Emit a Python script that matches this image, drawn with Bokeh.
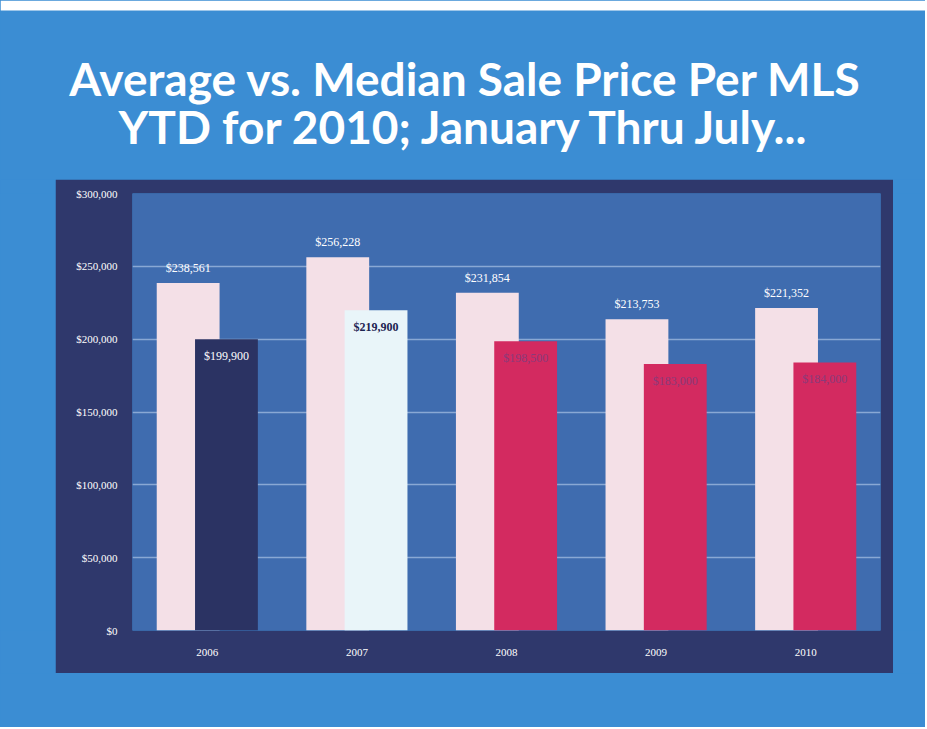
from bokeh.plotting import figure
from bokeh.models import (ColumnDataSource, FactorRange, Range1d, FixedTicker,
                          NumeralTickFormatter, Label, BoxAnnotation)
from bokeh.transform import dodge
from bokeh.layouts import column, row
from bokeh.embed import file_html
from bokeh.resources import INLINE

# ---------------- data ----------------
years = ["2006", "2007", "2008", "2009", "2010"]
average_price = [238561, 256228, 231854, 213753, 221352]
median_price = [199900, 219900, 198500, 183000, 184000]
y_ticks = [0, 50000, 100000, 150000, 200000, 250000, 300000]
title_lines = ["Average vs. Median Sale Price Per MLS",
               "YTD for 2010; January Thru July..."]

# ---------------- styles ----------------
BLUE = "#3b8dd3"
DARK = "#2f386c"
INNER = "#3f6caf"
AVG = "#f4e0e7"
median_colors = ["#2b3363", "#e9f5f9", "#d32a60", "#d32a60", "#d32a60"]
median_text_colors = ["#ffffff", "#1c2350", "#8a3a7a", "#8a3a7a", "#8a3a7a"]
median_text_styles = ["normal", "bold", "normal", "normal", "normal"]
SERIF = "Liberation Serif"

W, H = 925, 727
TITLE_H = 179
LEFT_W, CHART_W = 55, 838
RIGHT_W = W - LEFT_W - CHART_W
CHART_H = 494
BOTTOM_H = H - TITLE_H - CHART_H


def spacer(w, h):
    s = figure(width=w, height=h, toolbar_location=None, output_backend="svg",
               x_axis_type=None, y_axis_type=None, min_border=0,
               border_fill_color=BLUE, background_fill_color=BLUE,
               outline_line_color=None, x_range=Range1d(0, w), y_range=Range1d(h, 0))
    s.grid.visible = False
    return s


# ---------------- title ----------------
t = figure(width=W, height=TITLE_H, toolbar_location=None, output_backend="svg",
           x_axis_type=None, y_axis_type=None, min_border=0,
           border_fill_color=BLUE, background_fill_color=BLUE,
           outline_line_color=None,
           x_range=Range1d(0, W), y_range=Range1d(TITLE_H, 0))
t.grid.visible = False
t.add_layout(BoxAnnotation(top=0, bottom=10, fill_color="white", fill_alpha=1,
                           line_color=None))
for i, line in enumerate(title_lines):
    t.add_layout(Label(x=465, y=78 + 48 * i, text=line, text_align="center",
                       text_baseline="alphabetic", text_color="white",
                       text_font="Lato", text_font_size="46px",
                       text_font_style="bold"))

# ---------------- chart ----------------
source = ColumnDataSource(dict(
    year=years,
    average=average_price,
    median=median_price,
    avg_label=[f"${v:,}" for v in average_price],
    med_label=[f"${v:,}" for v in median_price],
    med_color=median_colors,
    med_text_color=median_text_colors,
    med_text_style=median_text_styles,
))

p = figure(x_range=FactorRange(factors=years, range_padding=0),
           y_range=Range1d(0, 300000),
           width=CHART_W, height=CHART_H, toolbar_location=None, output_backend="svg",
           min_border_left=77, min_border_right=13, min_border_top=14, min_border_bottom=43,
           border_fill_color=DARK, background_fill_color=INNER,
           outline_line_color=None)

p.vbar(x=dodge("year", -0.128, range=p.x_range), top="average", width=0.42,
       source=source, fill_color=AVG, line_color=None)
p.vbar(x=dodge("year", 0.128, range=p.x_range), top="median", width=0.42,
       source=source, fill_color="med_color", line_color=None)

p.text(x=dodge("year", -0.128, range=p.x_range), y="average", text="avg_label",
       source=source, y_offset=-8, text_align="center", text_baseline="bottom",
       text_color="white", text_font={"value": SERIF}, text_font_size="12px")
p.text(x=dodge("year", 0.128, range=p.x_range), y="median", text="med_label",
       source=source, y_offset=10, text_align="center", text_baseline="top",
       text_color="med_text_color", text_font_style="med_text_style",
       text_font={"value": SERIF}, text_font_size="12px")

p.yaxis.ticker = FixedTicker(ticks=y_ticks)
p.yaxis.formatter = NumeralTickFormatter(format="$0,0")
for ax in (p.xaxis, p.yaxis):
    ax.axis_line_color = None
    ax.major_tick_line_color = None
    ax.minor_tick_line_color = None
    ax.major_label_text_color = "white"
    ax.major_label_text_font = SERIF
    ax.major_label_text_font_size = "11px"
p.yaxis.major_label_standoff = 9
p.xaxis.major_label_standoff = 12

p.xgrid.grid_line_color = None
p.ygrid.ticker = FixedTicker(ticks=y_ticks)
p.ygrid.grid_line_color = "#c6daf3"
p.ygrid.grid_line_alpha = 0.55
p.ygrid.grid_line_width = 1.5

layout = column(t, row(spacer(LEFT_W, CHART_H), p, spacer(RIGHT_W, CHART_H),
                       styles={"background-color": BLUE}),
                spacer(W, BOTTOM_H), styles={"background-color": BLUE})

open("out.html", "w").write(file_html(layout, INLINE))
